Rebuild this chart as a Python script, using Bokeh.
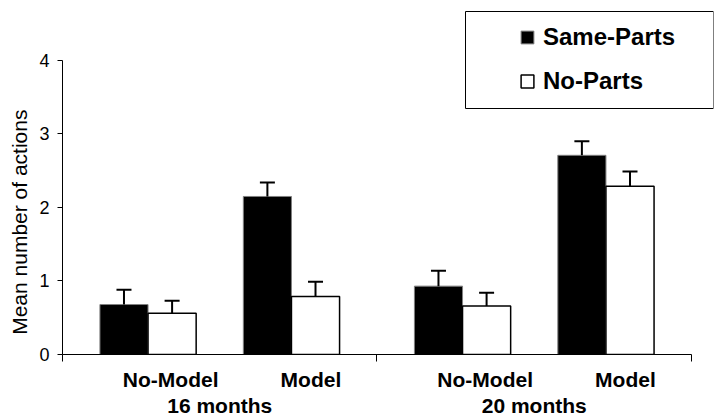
from bokeh.plotting import figure
from bokeh.models import (Range1d, FixedTicker, LinearAxis, Legend, LegendItem,
                          ColumnDataSource, Whisker, TeeHead, BoxAnnotation)
from bokeh.embed import file_html
from bokeh.resources import INLINE

# ---- data ----
months = ["16 months", "20 months"]
conditions = ["No-Model", "Model"]
series = ["Same-Parts", "No-Parts"]
same_parts = [0.68, 2.15, 0.93, 2.71]
same_parts_err = [0.20, 0.19, 0.21, 0.19]
no_parts = [0.56, 0.79, 0.66, 2.29]
no_parts_err = [0.17, 0.20, 0.18, 0.20]
y_ticks = [0, 1, 2, 3, 4]
y_title = "Mean number of actions"

# ---- layout constants ----
COND_OFFSET = 0.228      # condition centre from month centre (in month units)
BAR_W = 0.153            # bar width (in month units)
LABEL_SHIFT = {"No-Model": -0.156, "Model": 0.29}
Y_TITLE_AT = 1.8         # vertical centre of the y title (data units)
FONT = "Liberation Sans"

cat_x, label_x, label_txt = [], [], {}
for gi, m in enumerate(months):
    for ci, c in enumerate(conditions):
        cat_x.append(gi + 0.5 + (2 * ci - 1) * COND_OFFSET)
        lx = round(gi + 0.5 + LABEL_SHIFT[c], 3)
        label_x.append(lx)
        label_txt[lx] = c
month_x = [gi + 0.5 for gi in range(len(months))]
bound_x = [float(i) for i in range(len(months) + 1)]

src = ColumnDataSource(dict(
    x_same=[x - BAR_W / 2 for x in cat_x],
    x_no=[x + BAR_W / 2 for x in cat_x],
    same=same_parts,
    same_up=[v + e for v, e in zip(same_parts, same_parts_err)],
    no=no_parts,
    no_up=[v + e for v, e in zip(no_parts, no_parts_err)],
))

p = figure(width=714, height=419, output_backend="svg", toolbar_location=None,
           x_range=Range1d(0, 2.07), y_range=Range1d(0, 4.816),
           min_border_left=62, min_border_right=1, min_border_top=0,
           min_border_bottom=65, x_axis_location=None, y_axis_location=None)
p.outline_line_color = None
p.background_fill_color = "white"
p.grid.visible = False

# y axis
yax = LinearAxis(ticker=FixedTicker(ticks=y_ticks, minor_ticks=[]), bounds=(0, 4),
                 major_label_text_font=FONT, major_label_text_font_size="18px",
                 major_label_text_color="black",
                 major_label_standoff=8, major_tick_out=5, major_tick_in=0,
                 axis_line_color="black", major_tick_line_color="black")
p.add_layout(yax, "left")

# y title (as the single label of an outer, line-less axis)
ytitle = LinearAxis(ticker=FixedTicker(ticks=[Y_TITLE_AT], minor_ticks=[]),
                    major_label_overrides={Y_TITLE_AT: y_title},
                    major_label_orientation="vertical",
                    major_label_text_font=FONT, major_label_text_font_size="21px",
                    major_label_text_color="black", major_label_standoff=5,
                    major_tick_line_color=None, major_tick_out=0, major_tick_in=0,
                    minor_tick_line_color=None, axis_line_color=None)
p.add_layout(ytitle, "left")

# x axis (condition labels, separator ticks as minor ticks)
xax = LinearAxis(ticker=FixedTicker(ticks=label_x, minor_ticks=bound_x), bounds=(0, 2),
                 major_label_overrides=label_txt,
                 major_label_text_font=FONT, major_label_text_font_size="21px",
                 major_label_text_font_style="bold", major_label_text_color="black",
                 major_label_standoff=6,
                 major_tick_line_color=None, major_tick_out=0, major_tick_in=0,
                 minor_tick_out=7, minor_tick_in=0, minor_tick_line_color="black",
                 axis_line_color="black")
p.add_layout(xax, "below")

# month labels under the condition labels
mx = LinearAxis(ticker=FixedTicker(ticks=month_x, minor_ticks=[]),
                major_label_overrides={v: m for v, m in zip(month_x, months)},
                major_label_text_font=FONT, major_label_text_font_size="21px",
                major_label_text_font_style="bold", major_label_text_color="black",
                major_label_standoff=0,
                major_tick_line_color=None, major_tick_out=0, major_tick_in=0,
                minor_tick_line_color=None, axis_line_color=None)
p.add_layout(mx, "below")

r1 = p.vbar(x="x_same", top="same", width=BAR_W, source=src,
            fill_color="black", line_color="#808080", line_width=1)
r2 = p.vbar(x="x_no", top="no", width=BAR_W, source=src,
            fill_color="white", line_color="black", line_width=1.5)

for base, lo, up in (("x_same", "same", "same_up"), ("x_no", "no", "no_up")):
    p.add_layout(Whisker(source=src, base=base, lower=lo, upper=up,
                         dimension="height", line_color="black", line_width=2,
                         upper_head=TeeHead(size=15, line_color="black", line_width=2),
                         lower_head=None, level="overlay"))

legend = Legend(items=[LegendItem(label=series[0], renderers=[r1]),
                       LegendItem(label=series[1], renderers=[r2])],
                location=(447, 249), padding=10, spacing=16,
                glyph_width=16, glyph_height=16, label_standoff=8,
                label_text_font=FONT, label_text_font_style="bold",
                label_text_font_size="24px", label_text_color="black",
                border_line_alpha=0, background_fill_alpha=0)
p.add_layout(legend)

p.add_layout(BoxAnnotation(left=403, right=651, bottom=246, top=343,
                           left_units="screen", right_units="screen",
                           top_units="screen", bottom_units="screen",
                           fill_alpha=0, line_color="black", line_width=1,
                           line_alpha=1))

open("out.html", "w").write(file_html(p, INLINE))
